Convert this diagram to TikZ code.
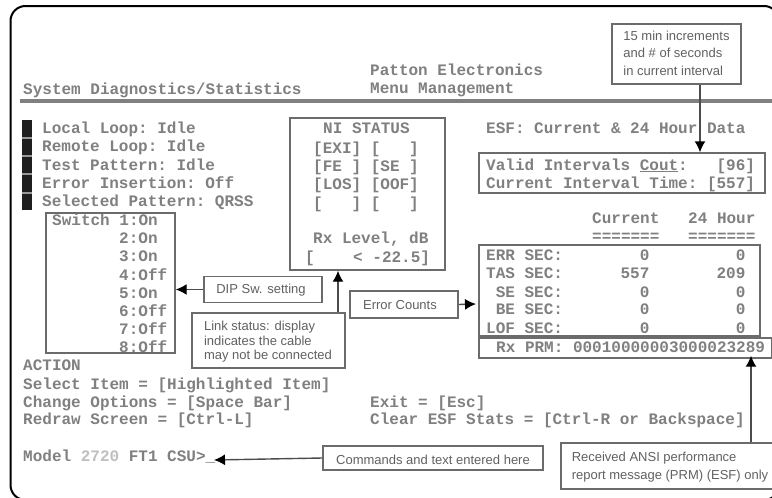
\documentclass[tikz,border=0pt]{standalone}
\usepackage{fontspec}
\setmainfont{Liberation Sans}
\setmonofont{Liberation Mono}
\usetikzlibrary{arrows.meta}
\definecolor{termgray}{gray}{0.5}
\definecolor{boxgray}{gray}{0.42}
\tikzset{
  term/.style={anchor=base west,inner sep=0pt,text=termgray,font=\ttfamily\bfseries\fontsize{16}{16}\selectfont},
  panel/.style={draw=boxgray,line width=1.4pt,inner sep=0pt},
  callout/.style={draw=boxgray,line width=1.5pt,inner sep=0pt},
  note/.style={anchor=center,inner sep=0pt,align=left,text=black!62,font=\fontsize{13}{14.5}\selectfont},
  notewide/.style={note,font=\fontsize{13}{17.5}\selectfont},
  arr/.style={draw=black!70,line width=1.4pt,-{Latex[length=11pt,width=11pt,black]}}
}
\begin{document}
\begin{tikzpicture}[x=1pt,y=-1pt]
\useasboundingbox (0,0) rectangle (772,498);
\fill[white] (0,0) rectangle (772,498);
% outer frame
\draw[black,line width=2pt,rounded corners=15pt] (10.5,6) rectangle (779,500);
% header
\node[term] (title) at (23,94) {System Diagnostics/Statistics};
\node[term] (vendor) at (370,75) {Patton Electronics};
\node[term] (menu) at (370,93) {Menu Management};
\fill[black!50] (20,98.5) rectangle (772,102.5);
% selection bar
\fill[black!88] (22,120) rectangle (32,210);
\foreach \yy in {137,155,173,192} \fill[black!40] (22,\yy) rectangle (32,\yy+2);
% status lines
\node[term] (l1) at (42,133) {Local Loop: Idle};
\node[term] (l2) at (42,151) {Remote Loop: Idle};
\node[term] (l3) at (42,170) {Test Pattern: Idle};
\node[term] (l4) at (42,188) {Error Insertion: Off};
\node[term] (l5) at (42,206) {Selected Pattern: QRSS};
% switch panel
\node[term] (s1) at (52,225) {Switch 1:On};
\node[term] (s2) at (119,243) {2:On};
\node[term] (s3) at (119,261) {3:On};
\node[term] (s4) at (119,280) {4:Off};
\node[term] (s5) at (119,298) {5:On};
\node[term] (s6) at (119,316) {6:Off};
\node[term] (s7) at (119,334) {7:Off};
\node[term] (s8) at (119,352) {8:Off};
\node[panel,minimum width=129pt,minimum height=140pt] (switchbox) at (110.5,283) {};
% NI status panel
\node[panel,minimum width=155pt,minimum height=152pt] (nibox) at (367.5,194) {};
\node[term] (n0) at (323,133) {NI STATUS};
\node[term] (n1) at (313,153) {[EXI] [~~~]};
\node[term] (n2) at (313,171) {[FE~] [SE~]};
\node[term] (n3) at (313,189) {[LOS] [OOF]};
\node[term] (n4) at (313,208) {[~~~] [~~~]};
\node[term] (n5) at (313,243) {Rx Level, dB};
\node[term] (n6) at (305,262) {[~~~~< -22.5]};
% ESF
\node[term] (esf) at (486,133) {ESF: Current \& 24 Hour Data};
\node[panel,minimum width=286pt,minimum height=40pt] (validbox) at (622,173) {};
\node[term] (v1) at (486,170) {Valid Intervals \underline{Cout}:~~~[96]};
\node[term] (v2) at (486,188) {Current Interval Time: [557]};
\node[term] (h1) at (592,223) {Current};
\node[term] (h2) at (688,223) {24 Hour};
\node[term] (d1) at (592,241) {=======};
\node[term] (d2) at (688,241) {=======};
\node[term] (c1) at (486,260) {ERR SEC:~~~~~~~~0~~~~~~~~~0};
\node[term] (c2) at (486,278) {TAS SEC:~~~~~~557~~~~~~~209};
\node[term] (c3) at (486,297) {~SE SEC:~~~~~~~~0~~~~~~~~~0};
\node[term] (c4) at (486,314) {~BE SEC:~~~~~~~~0~~~~~~~~~0};
\node[term] (c5) at (486,333) {LOF SEC:~~~~~~~~0~~~~~~~~~0};
\node[panel,minimum width=281pt,minimum height=91pt] (countbox) at (619.5,290.5) {};
\node[panel,minimum width=293pt,minimum height=20pt] (prmbox) at (625.5,348) {};
\node[term] (prm) at (496,352) {Rx PRM: 00010000003000023289};
% actions
\node[term] (a0) at (23,370) {ACTION};
\node[term] (a1) at (23,389) {Select Item = [Highlighted Item]};
\node[term] (a2) at (23,407) {Change Options = [Space Bar]};
\node[term] (a3) at (23,424) {Redraw Screen = [Ctrl-L]};
\node[term] (a4) at (370,407) {Exit = [Esc]};
\node[term] (a5) at (370,424) {Clear ESF Stats = [Ctrl-R or Backspace]};
\node[term] (m1) at (23,461) {Model \textcolor{black!25}{2720} FT1 CSU>\_};
% callouts
\node[callout,minimum width=129pt,minimum height=60pt] (topnote) at (676.5,54) {};
\node[notewide] (topnotetext) at (676.5,53) {15 min increments\\and \# of seconds\\in current interval};
\node[callout,minimum width=118pt,minimum height=26pt] (dipnote) at (263,289.5) {};
\node[note] (diptext) at (261,290) {DIP Sw. setting};
\node[callout,minimum width=153pt,minimum height=55pt] (linknote) at (268.5,340.5) {};
\node[note] (linktext) at (268,342) {Link status: display\\indicates the cable\\may not be connected};
\node[callout,minimum width=108pt,minimum height=27pt] (errnote) at (404,304.5) {};
\node[note] (errtext) at (400,305) {Error Counts};
\node[callout,minimum width=220pt,minimum height=24pt] (cmdnote) at (433,458) {};
\node[note] (cmdtext) at (433,459.5) {Commands and text entered here};
\node[callout,minimum width=225pt,minimum height=46pt] (recvnote) at (673.5,466) {};
\node[notewide] (recvtext) at (670,467) {Received ANSI performance\\report message (PRM) (ESF) only};
% connectors
\coordinate (ctop) at (700,0);
\coordinate (clink) at (338,0);
\coordinate (crecv) at (751,0);
\coordinate (ctip) at (214,460);
\coordinate (cerr) at (476,304);
\draw[arr] (topnote.south -| ctop) -- (validbox.north -| ctop);
\draw[arr] (dipnote.west) -- (switchbox.east |- dipnote.west);
\draw[arr] (linknote.north -| clink) -- (nibox.south -| clink);
\draw[arr] (errnote.east) -- (cerr);
\draw[arr] (cmdnote.west) -- (ctip);
\draw[arr] (recvnote.north -| crecv) -- ([yshift=3pt]prmbox.south -| crecv);
\end{tikzpicture}
\end{document}
